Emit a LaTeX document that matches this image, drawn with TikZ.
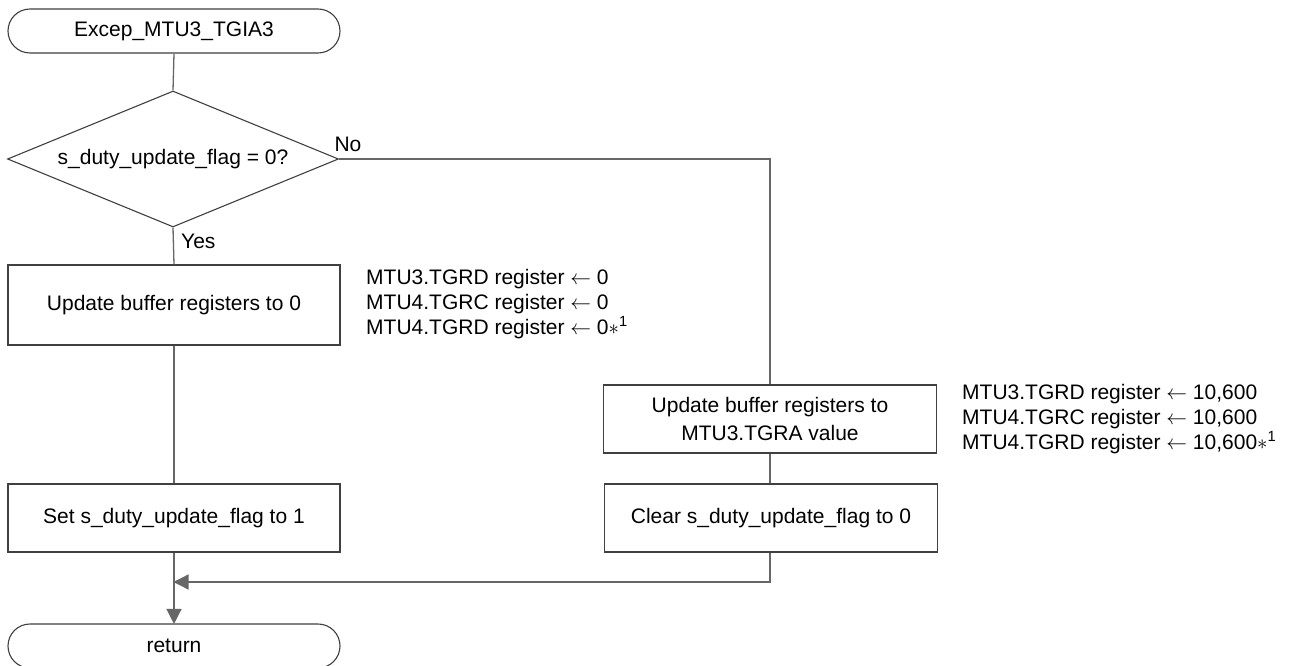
\documentclass[tikz,border=0pt]{standalone}
\usepackage{fontspec}
\setmainfont{Liberation Sans}
\usetikzlibrary{shapes.geometric,arrows.meta}
\begin{document}
\begin{tikzpicture}[x=1pt,y=-1pt,
  every node/.style={font=\fontsize{21}{25}\selectfont},
  term/.style={draw=black!75, line width=1.1pt, rounded corners=22pt, minimum width=332pt, minimum height=44pt, inner sep=0pt},
  proc/.style={draw=black!75, line width=1.1pt, minimum width=332pt, inner sep=0pt, align=center},
  dec/.style={draw=black!75, line width=1.1pt, diamond, shape aspect=2.43, minimum width=331pt, minimum height=136pt, inner sep=0pt},
  conn/.style={draw=black!60, line width=1.3pt},
  arr/.style={conn, -{Triangle[length=15pt,width=15pt]}, shorten >=-0.5pt},
  note/.style={align=left, anchor=base west, inner sep=0pt},
  lbl/.style={inner sep=0pt}]
\useasboundingbox (0,0) rectangle (1291,666);
\fill[white] (0,0) rectangle (1291,666);
\node[term] (start) at (174,31) {Excep\_MTU3\_TGIA3};
\node[dec] (d) at (173,159) {s\_duty\_update\_flag = 0?};
\node[proc, minimum height=80pt] (b1) at (174,305) {Update buffer registers to 0};
\node[proc, minimum height=68pt] (b2) at (174,518) {Set s\_duty\_update\_flag to 1};
\node[proc, minimum height=68pt, minimum width=333pt, font=\fontsize{21}{27.5}\selectfont] (r1) at (770,419) {Update buffer registers to\\MTU3.TGRA value};
\node[proc, minimum height=68pt, minimum width=333pt] (r2) at (771,518) {Clear s\_duty\_update\_flag to 0};
\node[term] (ret) at (174,646) {return};
\node[note] (n1) at (366,334) {MTU3.TGRD register $\leftarrow$ 0\\MTU4.TGRC register $\leftarrow$ 0\\MTU4.TGRD register $\leftarrow$ 0$\ast$\textsuperscript{1}};
\node[note] (n2) at (962,449) {MTU3.TGRD register $\leftarrow$ 10,600\\MTU4.TGRC register $\leftarrow$ 10,600\\MTU4.TGRD register $\leftarrow$ 10,600$\ast$\textsuperscript{1}};
\node[lbl, anchor=west] (yes) at (181,241) {Yes};
\node[lbl] (no) at (348,144) {No};
\coordinate (m) at (174,582);
\coordinate (nr) at (770,159);
\coordinate (mr) at (770,582);
\path[conn] (start.south) -- (d.north);
\path[conn] (d.south) -- (b1.north);
\path[conn] (b1.south) -- (b2.north);
\path[conn] (d.east) -- (nr) -- (r1.north);
\path[conn] (r1.south) -- (r1.south |- r2.north);
\path[arr] (r1.south |- r2.south) -- (mr) -- (m);
\path[arr] (b2.south) -- (ret.north);
\end{tikzpicture}
\end{document}
